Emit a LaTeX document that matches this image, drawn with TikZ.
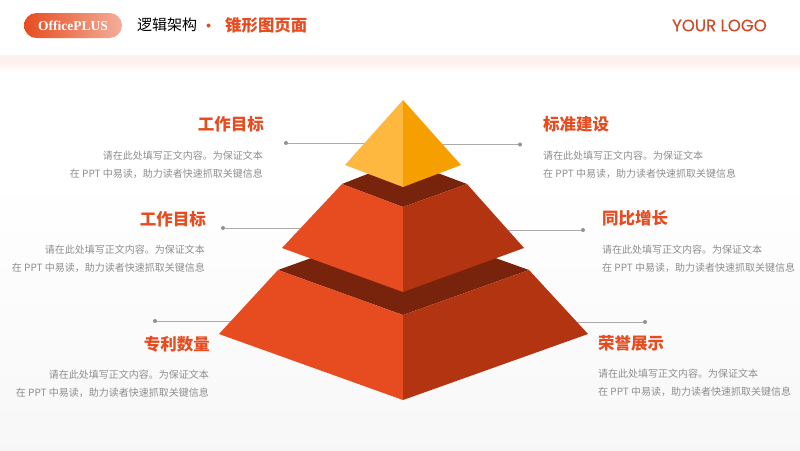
\documentclass[tikz,border=0pt]{standalone}
\usepackage{fontspec}
\setmainfont{Noto Sans CJK SC}
\newfontfamily\cjk{Noto Sans CJK SC}
\newfontfamily\brandfont{Liberation Serif}
\newfontfamily\logofont[FakeBold=0.3]{Poppins}
\usetikzlibrary{positioning}
\definecolor{accent}{HTML}{E64C20}
\definecolor{accentdark}{HTML}{B23410}
\definecolor{gap}{HTML}{78230C}
\definecolor{topleft}{HTML}{FFB83F}
\definecolor{topright}{HTML}{F5A000}
\definecolor{bodygray}{HTML}{8E8E8E}
\definecolor{rulegray}{HTML}{ABABAB}
\definecolor{logored}{HTML}{CE4B2A}
\begin{document}
\begin{tikzpicture}[
    x=1pt, y=-1pt,
    title/.style={font=\cjk\bfseries\fontsize{16.5}{18}\selectfont, text=accent, inner sep=0pt},
    body/.style={font=\cjk\fontsize{10}{18}\selectfont, text=bodygray, inner sep=0pt},
    dot/.style={circle, fill=rulegray!85!black, inner sep=0pt, minimum size=4pt},
    leader/.style={draw=rulegray, line width=1pt},
    pill/.style={rounded corners=12.5pt, minimum width=98pt, minimum height=25pt, left color=accent, right color=accent!45!white, inner sep=0pt}
]
\useasboundingbox (0,0) rectangle (800,450);

% Background
\fill[white] (0,0) rectangle (800,450);
\shade[top color=white, bottom color=black!3] (0,180) rectangle (800,450);
\fill[accent!8] (0,55) rectangle (800,62);
\shade[top color=accent!8, bottom color=white] (0,62) rectangle (800,72);

% Header
\node[pill, font=\brandfont\bfseries\fontsize{13.5}{15}\selectfont, text=white] (brand) at (73,25.5) {OfficePLUS};
\node[anchor=west, inner sep=0pt, font=\cjk\fontsize{15}{17}\selectfont] (section) at (137,25) {逻辑架构};
\node[circle, fill=accent, inner sep=0pt, minimum size=4pt] (sep) at (208.5,25.5) {};
\node[anchor=west, inner sep=0pt, text=accent, font=\cjk\bfseries\fontsize{16.4}{18}\selectfont] (pagename) at (225,25.5) {锥形图页面};
\node[anchor=east, inner sep=0pt, text=logored, font=\logofont\fontsize{16.6}{18}\selectfont] (logo) at (767,25.5) {YOUR LOGO};

% Leaders
\node[dot] (d1) at (286,143) {};
\node[dot] (d2) at (520,144.5) {};
\node[dot] (d3) at (223,228) {};
\node[dot] (d4) at (583,230) {};
\node[dot] (d5) at (155,321) {};
\node[dot] (d6) at (645,322) {};
\coordinate (c1) at (403,143);
\coordinate (c2) at (403,144.5);
\coordinate (c3) at (403,228);
\coordinate (c4) at (403,230);
\coordinate (c5) at (403,321);
\coordinate (c6) at (403,322);
\foreach \a/\b in {d1/c1, d2/c2, d3/c3, d4/c4, d5/c5, d6/c6}
    \draw[leader] (\a) -- (\b);

% Bottom tier
\fill[gap] (278,270) -- (403,225) -- (529,270) -- (403,315) -- cycle;
\fill[accent] (278,270) -- (403,315) -- (403,400) -- (219,334) -- cycle;
\fill[accentdark] (529,270) -- (403,315) -- (403,400) -- (588,334) -- cycle;

% Middle tier
\fill[gap] (342,184) -- (403,160) -- (467,184) -- (403,207) -- cycle;
\fill[accent] (342,184) -- (403,207) -- (403,292) -- (282,248) -- cycle;
\fill[accentdark] (467,184) -- (403,207) -- (403,292) -- (524,248) -- cycle;

% Top tier
\fill[topleft] (403,100) -- (403,187) -- (345,165) -- cycle;
\fill[topright] (403,100) -- (403,187) -- (461,165) -- cycle;

% Left texts
\node[title, anchor=east] (t1) at (264,124) {工作目标};
\node[body, anchor=north east, align=right] (b1) at (263,151) {请在此处填写正文内容。为保证文本\\在 PPT 中易读，助力读者快速抓取关键信息};
\node[title, anchor=east] (t3) at (206,219) {工作目标};
\node[body, anchor=north east, align=right] (b3) at (205,245) {请在此处填写正文内容。为保证文本\\在 PPT 中易读，助力读者快速抓取关键信息};
\node[title, anchor=east] (t5) at (210,344) {专利数量};
\node[body, anchor=north east, align=right] (b5) at (209,370) {请在此处填写正文内容。为保证文本\\在 PPT 中易读，助力读者快速抓取关键信息};

% Right texts
\node[title, anchor=west] (t2) at (543,124) {标准建设};
\node[body, anchor=north west, align=left] (b2) at (543,151) {请在此处填写正文内容。为保证文本\\在 PPT 中易读，助力读者快速抓取关键信息};
\node[title, anchor=west] (t4) at (602,218) {同比增长};
\node[body, anchor=north west, align=left] (b4) at (602,245) {请在此处填写正文内容。为保证文本\\在 PPT 中易读，助力读者快速抓取关键信息};
\node[title, anchor=west] (t6) at (598,343) {荣誉展示};
\node[body, anchor=north west, align=left] (b6) at (598,369) {请在此处填写正文内容。为保证文本\\在 PPT 中易读，助力读者快速抓取关键信息};

\end{tikzpicture}
\end{document}
